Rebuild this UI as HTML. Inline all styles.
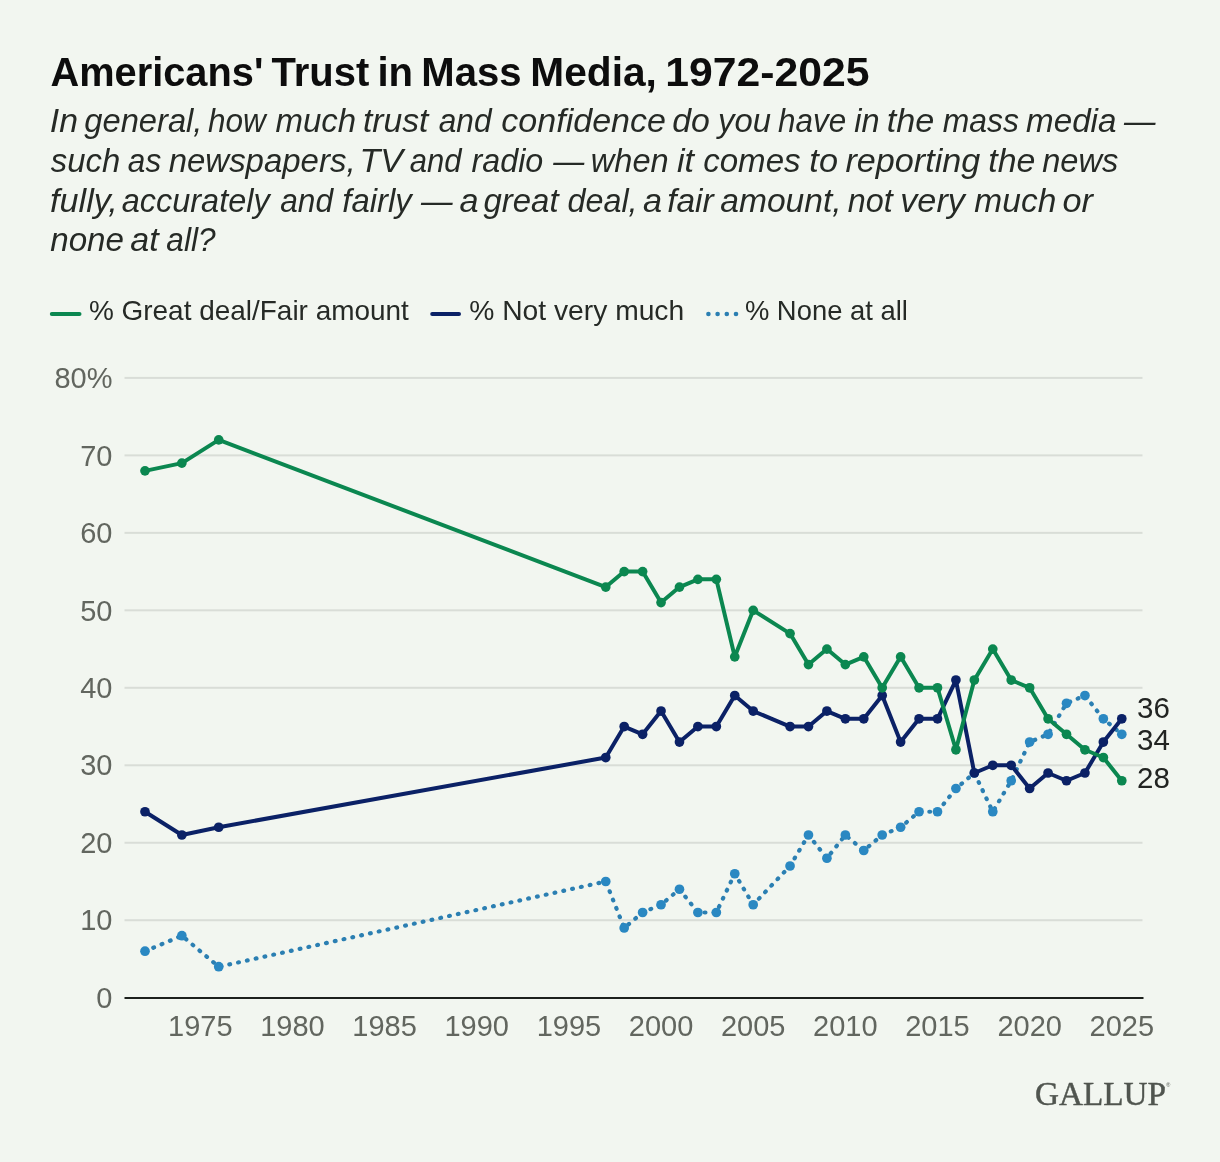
<!DOCTYPE html>
<html><head><meta charset="utf-8"><style>
html,body{margin:0;padding:0;background:#f2f6f0;}
body{width:1220px;height:1162px;overflow:hidden;position:relative;}
svg{position:absolute;left:0;top:0;will-change:transform;}
text{font-family:"Liberation Sans",sans-serif;}
.ax{font-size:29px;fill:#62665f;}
.el{font-size:29.5px;fill:#222422;}
.ti{font-size:40px;font-weight:bold;fill:#0d0d0d;}
.st{font-size:32.3px;font-style:italic;fill:#262a26;word-spacing:-2.5px;}
.lg{font-size:28px;fill:#262a26;}
.logo{font-family:"Liberation Serif",serif;font-size:34.2px;fill:#50554f;stroke:#50554f;stroke-width:0.45px;}
</style></head><body>
<svg width="1220" height="1162" viewBox="0 0 1220 1162">
<rect width="1220" height="1162" fill="#f2f6f0"/>
<text x="50.51" y="86.2" class="ti" textLength="212.85" lengthAdjust="spacingAndGlyphs">Americans'</text>
<text x="271.5" y="86.2" class="ti" textLength="97.74" lengthAdjust="spacingAndGlyphs">Trust</text>
<text x="377.45" y="86.2" class="ti" textLength="35.61" lengthAdjust="spacingAndGlyphs">in</text>
<text x="421.35" y="86.2" class="ti" textLength="100.22" lengthAdjust="spacingAndGlyphs">Mass</text>
<text x="530.3" y="86.2" class="ti" textLength="126.56" lengthAdjust="spacingAndGlyphs">Media,</text>
<text x="665.33" y="86.2" class="ti" textLength="204.18" lengthAdjust="spacingAndGlyphs">1972-2025</text>
<text x="49.79" y="132" class="st" textLength="28.21" lengthAdjust="spacingAndGlyphs">In</text>
<text x="84.3" y="132" class="st" textLength="118.16" lengthAdjust="spacingAndGlyphs">general,</text>
<text x="208.01" y="132" class="st" textLength="57.78" lengthAdjust="spacingAndGlyphs">how</text>
<text x="275.49" y="132" class="st" textLength="80.72" lengthAdjust="spacingAndGlyphs">much</text>
<text x="362.94" y="132" class="st" textLength="65.53" lengthAdjust="spacingAndGlyphs">trust</text>
<text x="438.77" y="132" class="st" textLength="52.79" lengthAdjust="spacingAndGlyphs">and</text>
<text x="501.35" y="132" class="st" textLength="164.64" lengthAdjust="spacingAndGlyphs">confidence</text>
<text x="672.25" y="132" class="st" textLength="37.62" lengthAdjust="spacingAndGlyphs">do</text>
<text x="718.08" y="132" class="st" textLength="52.91" lengthAdjust="spacingAndGlyphs">you</text>
<text x="778.11" y="132" class="st" textLength="68.14" lengthAdjust="spacingAndGlyphs">have</text>
<text x="854.3" y="132" class="st" textLength="25.3" lengthAdjust="spacingAndGlyphs">in</text>
<text x="886.77" y="132" class="st" textLength="47.59" lengthAdjust="spacingAndGlyphs">the</text>
<text x="942.81" y="132" class="st" textLength="76.15" lengthAdjust="spacingAndGlyphs">mass</text>
<text x="1026.09" y="132" class="st" textLength="90.36" lengthAdjust="spacingAndGlyphs">media</text>
<text x="1124.04" y="132" class="st" textLength="31.46" lengthAdjust="spacingAndGlyphs">—</text>
<text x="50.85" y="171.5" class="st" textLength="69.45" lengthAdjust="spacingAndGlyphs">such</text>
<text x="127.87" y="171.5" class="st" textLength="33.33" lengthAdjust="spacingAndGlyphs">as</text>
<text x="168.69" y="171.5" class="st" textLength="186.86" lengthAdjust="spacingAndGlyphs">newspapers,</text>
<text x="359.53" y="171.5" class="st" textLength="43.55" lengthAdjust="spacingAndGlyphs">TV</text>
<text x="409.81" y="171.5" class="st" textLength="51.73" lengthAdjust="spacingAndGlyphs">and</text>
<text x="471.6" y="171.5" class="st" textLength="71.66" lengthAdjust="spacingAndGlyphs">radio</text>
<text x="553.17" y="171.5" class="st" textLength="31.0" lengthAdjust="spacingAndGlyphs">—</text>
<text x="590.78" y="171.5" class="st" textLength="77.99" lengthAdjust="spacingAndGlyphs">when</text>
<text x="676.94" y="171.5" class="st" textLength="17.12" lengthAdjust="spacingAndGlyphs">it</text>
<text x="703.18" y="171.5" class="st" textLength="97.46" lengthAdjust="spacingAndGlyphs">comes</text>
<text x="809.38" y="171.5" class="st" textLength="28.55" lengthAdjust="spacingAndGlyphs">to</text>
<text x="845.47" y="171.5" class="st" textLength="134.76" lengthAdjust="spacingAndGlyphs">reporting</text>
<text x="988.23" y="171.5" class="st" textLength="47.08" lengthAdjust="spacingAndGlyphs">the</text>
<text x="1042.19" y="171.5" class="st" textLength="76.16" lengthAdjust="spacingAndGlyphs">news</text>
<text x="50.04" y="211.5" class="st" textLength="67.74" lengthAdjust="spacingAndGlyphs">fully,</text>
<text x="121.75" y="211.5" class="st" textLength="147.9" lengthAdjust="spacingAndGlyphs">accurately</text>
<text x="280.27" y="211.5" class="st" textLength="52.79" lengthAdjust="spacingAndGlyphs">and</text>
<text x="342.38" y="211.5" class="st" textLength="69.43" lengthAdjust="spacingAndGlyphs">fairly</text>
<text x="421.04" y="211.5" class="st" textLength="31.56" lengthAdjust="spacingAndGlyphs">—</text>
<text x="459.52" y="211.5" class="st" textLength="19.04" lengthAdjust="spacingAndGlyphs">a</text>
<text x="483.5" y="211.5" class="st" textLength="75.05" lengthAdjust="spacingAndGlyphs">great</text>
<text x="567.6" y="211.5" class="st" textLength="69.98" lengthAdjust="spacingAndGlyphs">deal,</text>
<text x="642.93" y="211.5" class="st" textLength="19.04" lengthAdjust="spacingAndGlyphs">a</text>
<text x="667.16" y="211.5" class="st" textLength="46.56" lengthAdjust="spacingAndGlyphs">fair</text>
<text x="720.22" y="211.5" class="st" textLength="121.43" lengthAdjust="spacingAndGlyphs">amount,</text>
<text x="847.8" y="211.5" class="st" textLength="44.9" lengthAdjust="spacingAndGlyphs">not</text>
<text x="900.25" y="211.5" class="st" textLength="64.68" lengthAdjust="spacingAndGlyphs">very</text>
<text x="974.38" y="211.5" class="st" textLength="81.95" lengthAdjust="spacingAndGlyphs">much</text>
<text x="1062.5" y="211.5" class="st" textLength="30.44" lengthAdjust="spacingAndGlyphs">or</text>
<text x="50.19" y="251.3" class="st" textLength="73.85" lengthAdjust="spacingAndGlyphs">none</text>
<text x="130.31" y="251.3" class="st" textLength="28.37" lengthAdjust="spacingAndGlyphs">at</text>
<text x="166.37" y="251.3" class="st" textLength="49.16" lengthAdjust="spacingAndGlyphs">all?</text>
<line x1="51.8" y1="314" x2="79.5" y2="314" stroke="#0b8750" stroke-width="4" stroke-linecap="round"/>
<text x="88.9" y="320" class="lg" textLength="320" lengthAdjust="spacingAndGlyphs">% Great deal/Fair amount</text>
<line x1="432.2" y1="314" x2="459" y2="314" stroke="#0b2166" stroke-width="4" stroke-linecap="round"/>
<text x="469.2" y="320" class="lg" textLength="215" lengthAdjust="spacingAndGlyphs">% Not very much</text>
<circle cx="708.4" cy="314" r="2.3" fill="#2b7fb2"/><circle cx="717.6" cy="314" r="2.3" fill="#2b7fb2"/><circle cx="726.8" cy="314" r="2.3" fill="#2b7fb2"/><circle cx="736" cy="314" r="2.3" fill="#2b7fb2"/>
<text x="744.9" y="320" class="lg" textLength="163" lengthAdjust="spacingAndGlyphs">% None at all</text>
<rect x="124.5" y="919.23" width="1018.0" height="2" fill="#d9ddd7"/>
<rect x="124.5" y="841.75" width="1018.0" height="2" fill="#d9ddd7"/>
<rect x="124.5" y="764.28" width="1018.0" height="2" fill="#d9ddd7"/>
<rect x="124.5" y="686.80" width="1018.0" height="2" fill="#d9ddd7"/>
<rect x="124.5" y="609.33" width="1018.0" height="2" fill="#d9ddd7"/>
<rect x="124.5" y="531.85" width="1018.0" height="2" fill="#d9ddd7"/>
<rect x="124.5" y="454.38" width="1018.0" height="2" fill="#d9ddd7"/>
<rect x="124.5" y="376.90" width="1018.0" height="2" fill="#d9ddd7"/>
<rect x="124.5" y="997.00" width="1019.0" height="2" fill="#1d211d"/>
<text x="112.5" y="1007.90" text-anchor="end" class="ax">0</text>
<text x="112.5" y="930.43" text-anchor="end" class="ax">10</text>
<text x="112.5" y="852.95" text-anchor="end" class="ax">20</text>
<text x="112.5" y="775.48" text-anchor="end" class="ax">30</text>
<text x="112.5" y="698.00" text-anchor="end" class="ax">40</text>
<text x="112.5" y="620.53" text-anchor="end" class="ax">50</text>
<text x="112.5" y="543.05" text-anchor="end" class="ax">60</text>
<text x="112.5" y="465.58" text-anchor="end" class="ax">70</text>
<text x="112.5" y="388.10" text-anchor="end" class="ax">80%</text>
<text x="200.29" y="1036.1" text-anchor="middle" class="ax">1975</text>
<text x="292.44" y="1036.1" text-anchor="middle" class="ax">1980</text>
<text x="384.59" y="1036.1" text-anchor="middle" class="ax">1985</text>
<text x="476.74" y="1036.1" text-anchor="middle" class="ax">1990</text>
<text x="568.89" y="1036.1" text-anchor="middle" class="ax">1995</text>
<text x="661.04" y="1036.1" text-anchor="middle" class="ax">2000</text>
<text x="753.19" y="1036.1" text-anchor="middle" class="ax">2005</text>
<text x="845.34" y="1036.1" text-anchor="middle" class="ax">2010</text>
<text x="937.49" y="1036.1" text-anchor="middle" class="ax">2015</text>
<text x="1029.64" y="1036.1" text-anchor="middle" class="ax">2020</text>
<text x="1121.79" y="1036.1" text-anchor="middle" class="ax">2025</text>
<polyline points="145.00,951.22 181.86,935.72 218.72,966.71 605.75,881.49 624.18,927.97 642.61,912.48 661.04,904.73 679.47,889.24 697.90,912.48 716.33,912.48 734.76,873.74 753.19,904.73 790.05,865.99 808.48,835.00 826.91,858.25 845.34,835.00 863.77,850.50 882.20,835.00 900.63,827.26 919.06,811.76 937.49,811.76 955.92,788.52 974.35,773.02 992.78,811.76 1011.21,780.77 1029.64,742.03 1048.07,734.29 1066.50,703.30 1084.93,695.55 1103.36,718.79 1121.79,734.29" fill="none" stroke="#2b7fb2" stroke-width="4.2" stroke-linecap="round" stroke-dasharray="0.8 8.2"/>
<circle cx="145.00" cy="951.22" r="4.85" fill="#2a88c2"/><circle cx="181.86" cy="935.72" r="4.85" fill="#2a88c2"/><circle cx="218.72" cy="966.71" r="4.85" fill="#2a88c2"/><circle cx="605.75" cy="881.49" r="4.85" fill="#2a88c2"/><circle cx="624.18" cy="927.97" r="4.85" fill="#2a88c2"/><circle cx="642.61" cy="912.48" r="4.85" fill="#2a88c2"/><circle cx="661.04" cy="904.73" r="4.85" fill="#2a88c2"/><circle cx="679.47" cy="889.24" r="4.85" fill="#2a88c2"/><circle cx="697.90" cy="912.48" r="4.85" fill="#2a88c2"/><circle cx="716.33" cy="912.48" r="4.85" fill="#2a88c2"/><circle cx="734.76" cy="873.74" r="4.85" fill="#2a88c2"/><circle cx="753.19" cy="904.73" r="4.85" fill="#2a88c2"/><circle cx="790.05" cy="865.99" r="4.85" fill="#2a88c2"/><circle cx="808.48" cy="835.00" r="4.85" fill="#2a88c2"/><circle cx="826.91" cy="858.25" r="4.85" fill="#2a88c2"/><circle cx="845.34" cy="835.00" r="4.85" fill="#2a88c2"/><circle cx="863.77" cy="850.50" r="4.85" fill="#2a88c2"/><circle cx="882.20" cy="835.00" r="4.85" fill="#2a88c2"/><circle cx="900.63" cy="827.26" r="4.85" fill="#2a88c2"/><circle cx="919.06" cy="811.76" r="4.85" fill="#2a88c2"/><circle cx="937.49" cy="811.76" r="4.85" fill="#2a88c2"/><circle cx="955.92" cy="788.52" r="4.85" fill="#2a88c2"/><circle cx="974.35" cy="773.02" r="4.85" fill="#2a88c2"/><circle cx="992.78" cy="811.76" r="4.85" fill="#2a88c2"/><circle cx="1011.21" cy="780.77" r="4.85" fill="#2a88c2"/><circle cx="1029.64" cy="742.03" r="4.85" fill="#2a88c2"/><circle cx="1048.07" cy="734.29" r="4.85" fill="#2a88c2"/><circle cx="1066.50" cy="703.30" r="4.85" fill="#2a88c2"/><circle cx="1084.93" cy="695.55" r="4.85" fill="#2a88c2"/><circle cx="1103.36" cy="718.79" r="4.85" fill="#2a88c2"/><circle cx="1121.79" cy="734.29" r="4.85" fill="#2a88c2"/>
<polyline points="145.00,811.76 181.86,835.00 218.72,827.26 605.75,757.53 624.18,726.54 642.61,734.29 661.04,711.04 679.47,742.03 697.90,726.54 716.33,726.54 734.76,695.55 753.19,711.04 790.05,726.54 808.48,726.54 826.91,711.04 845.34,718.79 863.77,718.79 882.20,695.55 900.63,742.03 919.06,718.79 937.49,718.79 955.92,680.05 974.35,773.02 992.78,765.28 1011.21,765.28 1029.64,788.52 1048.07,773.02 1066.50,780.77 1084.93,773.02 1103.36,742.03 1121.79,718.79" fill="none" stroke="#0b2166" stroke-width="4.0" stroke-linejoin="round"/>
<circle cx="145.00" cy="811.76" r="4.85" fill="#0b2166"/><circle cx="181.86" cy="835.00" r="4.85" fill="#0b2166"/><circle cx="218.72" cy="827.26" r="4.85" fill="#0b2166"/><circle cx="605.75" cy="757.53" r="4.85" fill="#0b2166"/><circle cx="624.18" cy="726.54" r="4.85" fill="#0b2166"/><circle cx="642.61" cy="734.29" r="4.85" fill="#0b2166"/><circle cx="661.04" cy="711.04" r="4.85" fill="#0b2166"/><circle cx="679.47" cy="742.03" r="4.85" fill="#0b2166"/><circle cx="697.90" cy="726.54" r="4.85" fill="#0b2166"/><circle cx="716.33" cy="726.54" r="4.85" fill="#0b2166"/><circle cx="734.76" cy="695.55" r="4.85" fill="#0b2166"/><circle cx="753.19" cy="711.04" r="4.85" fill="#0b2166"/><circle cx="790.05" cy="726.54" r="4.85" fill="#0b2166"/><circle cx="808.48" cy="726.54" r="4.85" fill="#0b2166"/><circle cx="826.91" cy="711.04" r="4.85" fill="#0b2166"/><circle cx="845.34" cy="718.79" r="4.85" fill="#0b2166"/><circle cx="863.77" cy="718.79" r="4.85" fill="#0b2166"/><circle cx="882.20" cy="695.55" r="4.85" fill="#0b2166"/><circle cx="900.63" cy="742.03" r="4.85" fill="#0b2166"/><circle cx="919.06" cy="718.79" r="4.85" fill="#0b2166"/><circle cx="937.49" cy="718.79" r="4.85" fill="#0b2166"/><circle cx="955.92" cy="680.05" r="4.85" fill="#0b2166"/><circle cx="974.35" cy="773.02" r="4.85" fill="#0b2166"/><circle cx="992.78" cy="765.28" r="4.85" fill="#0b2166"/><circle cx="1011.21" cy="765.28" r="4.85" fill="#0b2166"/><circle cx="1029.64" cy="788.52" r="4.85" fill="#0b2166"/><circle cx="1048.07" cy="773.02" r="4.85" fill="#0b2166"/><circle cx="1066.50" cy="780.77" r="4.85" fill="#0b2166"/><circle cx="1084.93" cy="773.02" r="4.85" fill="#0b2166"/><circle cx="1103.36" cy="742.03" r="4.85" fill="#0b2166"/><circle cx="1121.79" cy="718.79" r="4.85" fill="#0b2166"/>
<polyline points="145.00,470.87 181.86,463.12 218.72,439.88 605.75,587.08 624.18,571.59 642.61,571.59 661.04,602.58 679.47,587.08 697.90,579.34 716.33,579.34 734.76,656.81 753.19,610.33 790.05,633.57 808.48,664.56 826.91,649.06 845.34,664.56 863.77,656.81 882.20,687.80 900.63,656.81 919.06,687.80 937.49,687.80 955.92,749.78 974.35,680.05 992.78,649.06 1011.21,680.05 1029.64,687.80 1048.07,718.79 1066.50,734.29 1084.93,749.78 1103.36,757.53 1121.79,780.77" fill="none" stroke="#0b8750" stroke-width="4.0" stroke-linejoin="round"/>
<circle cx="145.00" cy="470.87" r="4.85" fill="#0b8750"/><circle cx="181.86" cy="463.12" r="4.85" fill="#0b8750"/><circle cx="218.72" cy="439.88" r="4.85" fill="#0b8750"/><circle cx="605.75" cy="587.08" r="4.85" fill="#0b8750"/><circle cx="624.18" cy="571.59" r="4.85" fill="#0b8750"/><circle cx="642.61" cy="571.59" r="4.85" fill="#0b8750"/><circle cx="661.04" cy="602.58" r="4.85" fill="#0b8750"/><circle cx="679.47" cy="587.08" r="4.85" fill="#0b8750"/><circle cx="697.90" cy="579.34" r="4.85" fill="#0b8750"/><circle cx="716.33" cy="579.34" r="4.85" fill="#0b8750"/><circle cx="734.76" cy="656.81" r="4.85" fill="#0b8750"/><circle cx="753.19" cy="610.33" r="4.85" fill="#0b8750"/><circle cx="790.05" cy="633.57" r="4.85" fill="#0b8750"/><circle cx="808.48" cy="664.56" r="4.85" fill="#0b8750"/><circle cx="826.91" cy="649.06" r="4.85" fill="#0b8750"/><circle cx="845.34" cy="664.56" r="4.85" fill="#0b8750"/><circle cx="863.77" cy="656.81" r="4.85" fill="#0b8750"/><circle cx="882.20" cy="687.80" r="4.85" fill="#0b8750"/><circle cx="900.63" cy="656.81" r="4.85" fill="#0b8750"/><circle cx="919.06" cy="687.80" r="4.85" fill="#0b8750"/><circle cx="937.49" cy="687.80" r="4.85" fill="#0b8750"/><circle cx="955.92" cy="749.78" r="4.85" fill="#0b8750"/><circle cx="974.35" cy="680.05" r="4.85" fill="#0b8750"/><circle cx="992.78" cy="649.06" r="4.85" fill="#0b8750"/><circle cx="1011.21" cy="680.05" r="4.85" fill="#0b8750"/><circle cx="1029.64" cy="687.80" r="4.85" fill="#0b8750"/><circle cx="1048.07" cy="718.79" r="4.85" fill="#0b8750"/><circle cx="1066.50" cy="734.29" r="4.85" fill="#0b8750"/><circle cx="1084.93" cy="749.78" r="4.85" fill="#0b8750"/><circle cx="1103.36" cy="757.53" r="4.85" fill="#0b8750"/><circle cx="1121.79" cy="780.77" r="4.85" fill="#0b8750"/>
<text x="1137" y="718.2" class="el">36</text>
<text x="1137" y="749.8" class="el">34</text>
<text x="1137" y="788" class="el">28</text>
<text x="1035" y="1105.2" class="logo" textLength="131" lengthAdjust="spacingAndGlyphs">GALLUP</text>
<text x="1166.3" y="1086.5" style="font-family:'Liberation Sans',sans-serif;font-size:5.5px;fill:#50554f">®</text>
</svg>
</body></html>
